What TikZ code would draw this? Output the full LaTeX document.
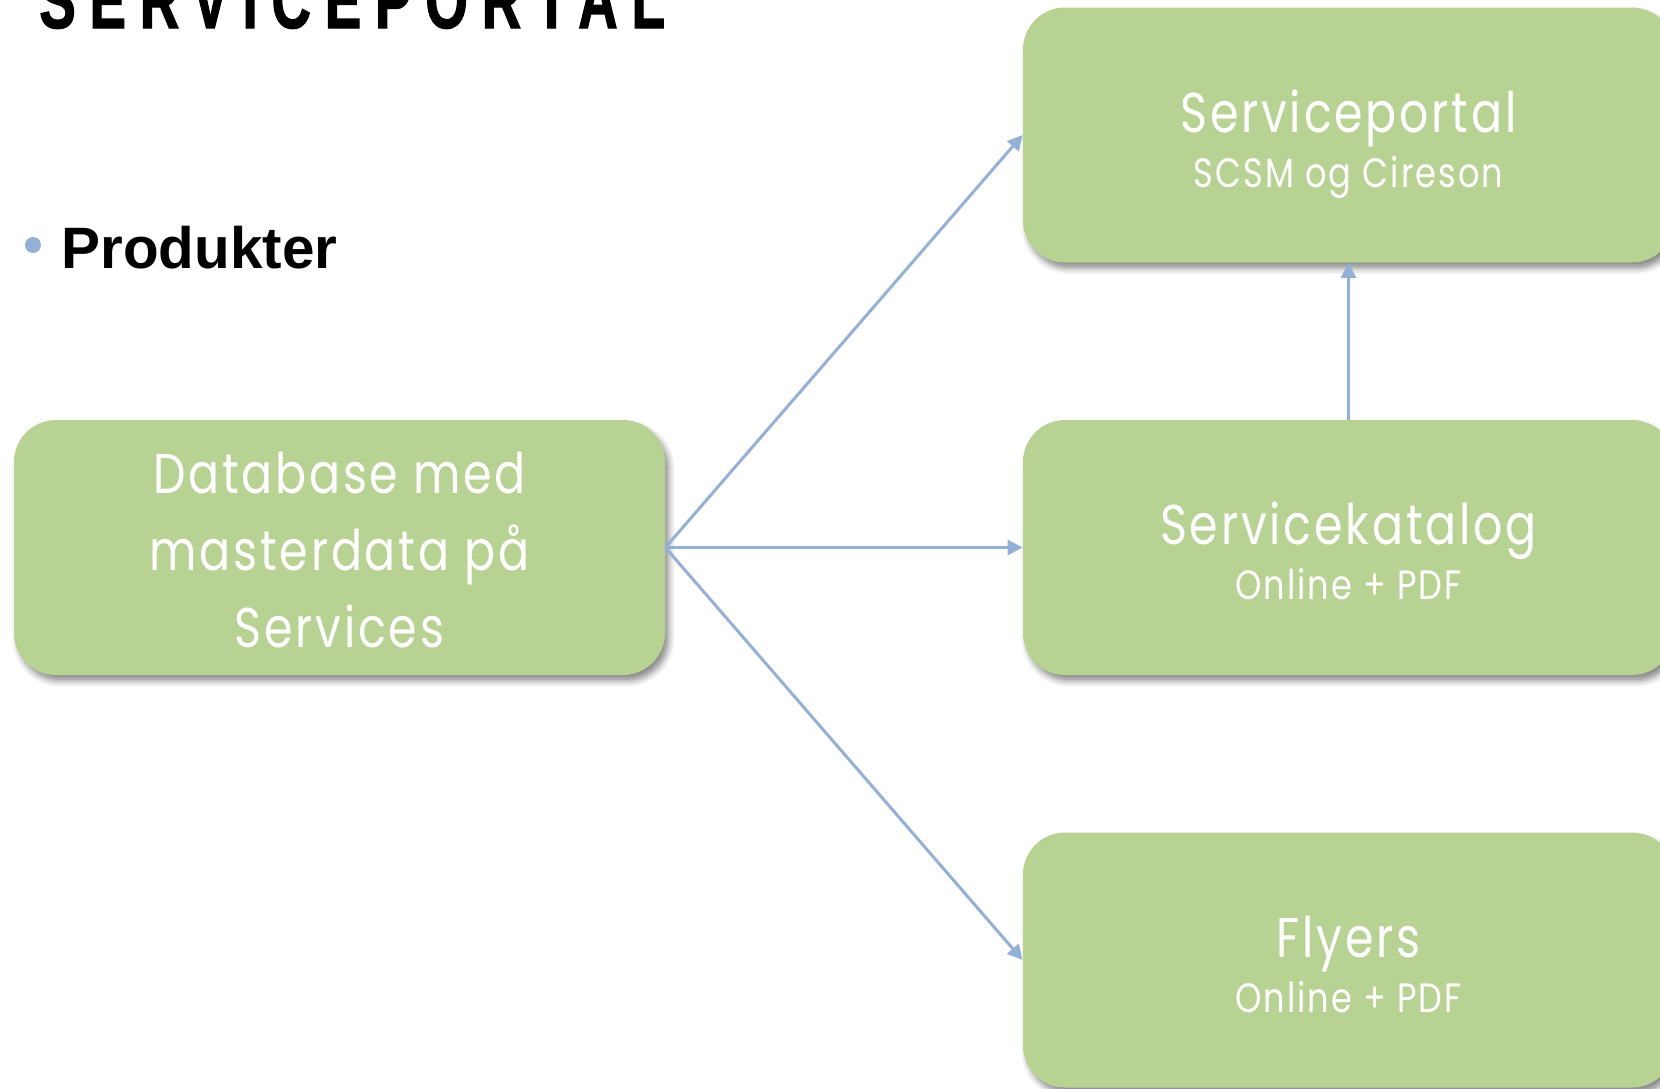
\documentclass[tikz,border=0pt]{standalone}
\usepackage{fontspec}
\setmainfont{Liberation Sans}
\newfontfamily\boxfont[FakeStretch=0.82,LetterSpace=5]{Poppins}
\newfontfamily\titlefont[FakeStretch=0.68,LetterSpace=17.5,FakeBold=1.5]{Liberation Sans}
\usetikzlibrary{arrows.meta,shadows.blur}
\definecolor{boxgreen}{HTML}{B8D293}
\definecolor{arrowblue}{HTML}{94B0D6}
\newcommand{\subsz}{\fontsize{20.5}{27.5}\selectfont}
\tikzset{
  gbox/.style={fill=boxgreen, rounded corners=21pt, minimum width=325.5pt,
    minimum height=127.5pt, text=white, align=center,
    font=\boxfont\fontsize{28}{27.5}\selectfont, inner sep=0pt,
    blur shadow={shadow xshift=2pt, shadow yshift=-3pt, shadow blur radius=3pt, shadow opacity=45}},
  conn/.style={draw=arrowblue, line width=1.5pt, -{Triangle[length=7.5pt,width=7.5pt]}},
  bulletdot/.style={circle, fill=arrowblue, inner sep=0pt, minimum size=8pt},
}
\begin{document}
\begin{tikzpicture}[x=0.5pt,y=-0.5pt]
\useasboundingbox (0,0) rectangle (1660,1088);
\clip (0,0) rectangle (1660,1088);
\node[anchor=base west, inner sep=0pt, font=\titlefont\bfseries\fontsize{40}{40}\selectfont] (title) at (39,28) {SERVICEPORTAL};
\node[bulletdot] (bullet) at (33,245) {};
\node[anchor=base west, inner sep=0pt, font=\bfseries\fontsize{29.2}{30}\selectfont] (prod) at (61,268) {Produkter};

\node[gbox, font=\boxfont\fontsize{28}{38.5}\selectfont] (db) at (339.5,547.5)
  {\rule{0pt}{30.5pt}Database med\\ masterdata på\\ Services\rule[-8pt]{0pt}{8pt}};
\node[gbox] (portal) at (1348.5,135)
  {\rule{0pt}{34.5pt}Serviceportal\\ \subsz SCSM og Cireson\rule[-10pt]{0pt}{10pt}};
\node[gbox] (katalog) at (1348.5,547.5)
  {\rule{0pt}{34.5pt}Servicekatalog\\ \subsz Online + PDF\rule[-10pt]{0pt}{10pt}};
\node[gbox] (flyers) at (1348.5,960)
  {\rule{0pt}{34.5pt}Flyers\\ \subsz Online + PDF\rule[-10pt]{0pt}{10pt}};

\draw[conn] (db.east) -- (portal.west);
\draw[conn] (db.east) -- (katalog.west);
\draw[conn] (db.east) -- (flyers.west);
\draw[conn] (katalog.north) -- (portal.south);
\end{tikzpicture}
\end{document}
